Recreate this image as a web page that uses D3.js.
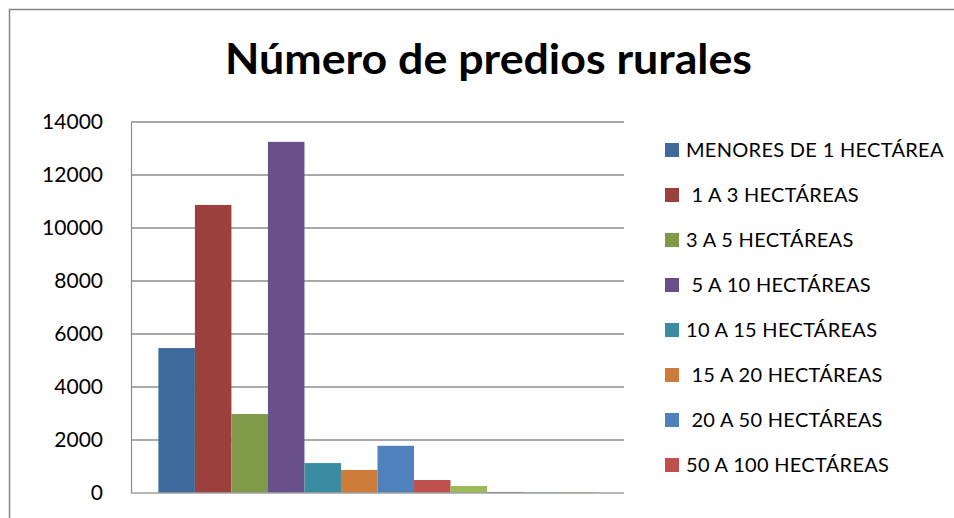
<!DOCTYPE html>
<html>
<head>
<meta charset="utf-8">
<script src="https://cdn.jsdelivr.net/npm/d3@7"></script>
<style>
  html, body { margin: 0; padding: 0; background: #fff; }
  svg { display: block; font-family: Lato, "Open Sans", sans-serif; }
</style>
</head>
<body>
<svg id="chart" width="954" height="518"></svg>
<script>
const title = "Número de predios rurales";
const categories = [""];
const seriesNames = [
  "MENORES DE 1 HECTÁREA",
  " 1 A 3 HECTÁREAS",
  "3 A 5 HECTÁREAS",
  " 5 A 10 HECTÁREAS",
  "10 A 15 HECTÁREAS",
  " 15 A 20 HECTÁREAS",
  " 20 A 50 HECTÁREAS",
  "50 A 100 HECTÁREAS",
  "100 A 200 HECTÁREAS",
  "200 A 500 HECTÁREAS",
  "500 A 1000 HECTÁREAS",
  "MAYORES DE 1000 HECTÁREAS"
];
const seriesValues = [5470, 10870, 2980, 13250, 1130, 870, 1780, 490, 265, 40, 30, 25];
const seriesColors = ["#3E6A9B", "#9C403E", "#7F9A48", "#68518A", "#3B8CA3", "#CC7B38",
                      "#4F81BD", "#C0504D", "#9BBB59", "#8064A2", "#4BACC6", "#F79646"];
const yTicks = [0, 2000, 4000, 6000, 8000, 10000, 12000, 14000];
const legendVisibleCount = 8;

const svg = d3.select("#chart");

// chart border (extends past the window on the right and bottom)
svg.append("rect")
  .attr("x", 9.5).attr("y", 9.5)
  .attr("width", 1100).attr("height", 700)
  .attr("fill", "#fff").attr("stroke", "#868686").attr("stroke-width", 1.5);

// title
svg.append("text")
  .attr("x", 488.5).attr("y", 74)
  .attr("text-anchor", "middle")
  .attr("font-size", 42).attr("font-weight", 700)
  .attr("textLength", 527).attr("lengthAdjust", "spacingAndGlyphs")
  .attr("fill", "#000")
  .text(title);

const plot = { left: 131, right: 624, top: 122, bottom: 493 };

const y = d3.scaleLinear().domain([0, 14000]).range([plot.bottom, plot.top]);
const x0 = d3.scaleBand().domain(categories).range([plot.left, plot.right])
  .paddingInner(0).paddingOuter(0.0625);
const x1 = d3.scaleBand().domain(d3.range(seriesNames.length)).range([0, x0.bandwidth()]).padding(0);

// gridlines
svg.append("g")
  .selectAll("line")
  .data(yTicks.filter(d => d > 0))
  .join("line")
  .attr("x1", plot.left).attr("x2", plot.right)
  .attr("y1", d => y(d)).attr("y2", d => y(d))
  .attr("stroke", "#8c8c8c").attr("stroke-width", 1.6);

// y axis
const yAxis = d3.axisLeft(y).tickValues(yTicks).tickSize(0).tickPadding(28).tickFormat(d3.format("d"));
const gy = svg.append("g").attr("transform", `translate(${plot.left},0)`).call(yAxis);
gy.select(".domain").attr("stroke", "#8c8c8c").attr("stroke-width", 1.2);
gy.selectAll("text").attr("font-size", 21).attr("fill", "#000")
  .attr("font-family", "Lato, 'Open Sans', sans-serif");

// bars
const data = seriesValues.map((v, i) => ({ i, v, cat: categories[0] }));
svg.append("g")
  .selectAll("rect")
  .data(data)
  .join("rect")
  .attr("x", d => x0(d.cat) + x1(d.i))
  .attr("width", x1.bandwidth())
  .attr("y", d => y(d.v))
  .attr("height", d => y(0) - y(d.v))
  .attr("fill", d => seriesColors[d.i]);

// x axis (baseline)
svg.append("line")
  .attr("x1", plot.left).attr("x2", plot.right)
  .attr("y1", y(0)).attr("y2", y(0))
  .attr("stroke", "#a0a0a0").attr("stroke-width", 1.6);

// legend
const lg = svg.append("g").attr("transform", "translate(665,143)");
const items = lg.selectAll("g")
  .data(seriesNames.slice(0, legendVisibleCount))
  .join("g")
  .attr("transform", (d, i) => `translate(0,${i * 45})`);
items.append("rect")
  .attr("width", 14).attr("height", 14)
  .attr("fill", (d, i) => seriesColors[i]);
items.append("text")
  .attr("x", 21).attr("y", 14)
  .attr("font-size", 20)
  .attr("letter-spacing", 0.3)
  .attr("fill", "#000")
  .style("white-space", "pre")
  .text(d => d);
</script>
</body>
</html>
